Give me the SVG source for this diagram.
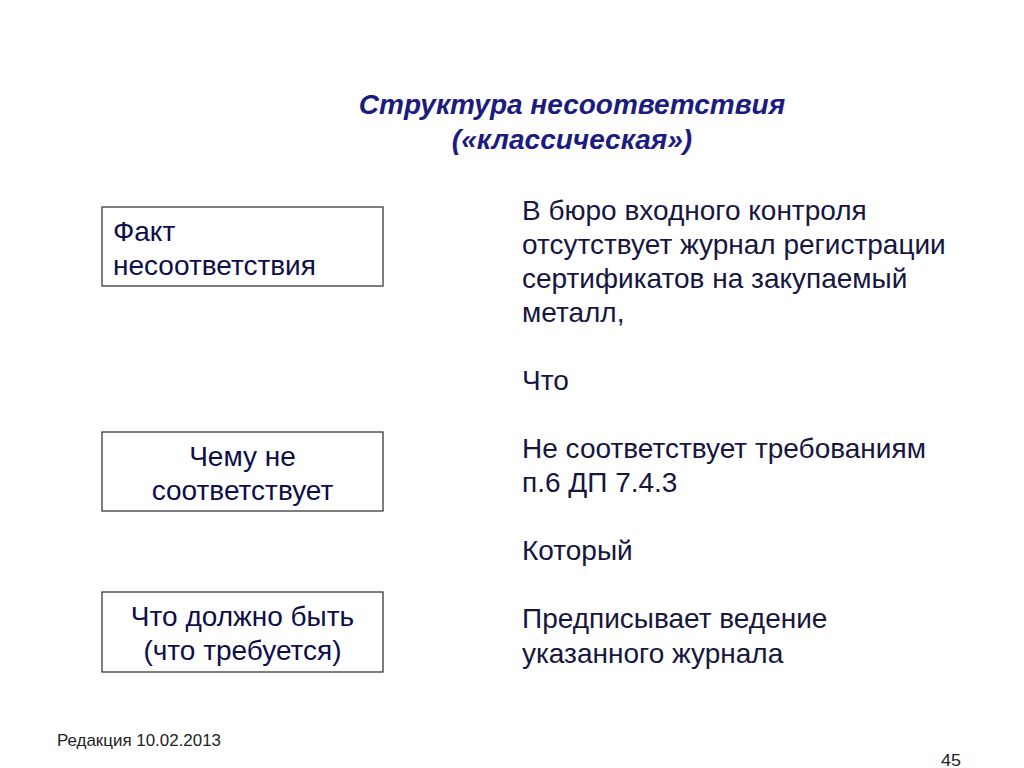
<svg xmlns="http://www.w3.org/2000/svg" width="1024" height="768" viewBox="0 0 1024 768">
<style>
.title{font-family:"Liberation Sans",Arial,sans-serif;font-size:28px;font-weight:bold;font-style:italic;fill:#1c1c80;text-anchor:middle}
.box{fill:#ffffff;stroke:#3a3a3a;stroke-width:1.3}
.bt{font-family:"Liberation Sans",Arial,sans-serif;font-size:28px;fill:#0e0e4a}
.rt{font-family:"Liberation Sans",Arial,sans-serif;font-size:28px;fill:#161640}
.ft{font-family:"Liberation Sans",Arial,sans-serif;font-size:17px;fill:#222222}
</style>
<rect width="1024" height="768" fill="#ffffff"/>
<g id="title">
<text class="title" x="572" y="114">Структура несоответствия</text>
<text class="title" x="572" y="149">(«классическая»)</text>
</g>
<g id="node-fact">
<rect class="box" x="102" y="207" width="281" height="79"/>
<text class="bt" x="113" y="241">Факт</text>
<text class="bt" x="113" y="275">несоответствия</text>
</g>
<g id="node-what-not">
<rect class="box" x="102" y="432" width="281" height="79"/>
<text class="bt" x="242.5" y="466" text-anchor="middle">Чему не</text>
<text class="bt" x="242.5" y="500" text-anchor="middle">соответствует</text>
</g>
<g id="node-should">
<rect class="box" x="102" y="592" width="281" height="80"/>
<text class="bt" x="242.5" y="626" text-anchor="middle">Что должно быть</text>
<text class="bt" x="242.5" y="660" text-anchor="middle">(что требуется)</text>
</g>
<g id="connectors"></g>
<g id="right-text">
<text class="rt" x="522" y="220">В бюро входного контроля</text>
<text class="rt" x="522" y="254">отсутствует журнал регистрации</text>
<text class="rt" x="522" y="288">сертификатов на закупаемый</text>
<text class="rt" x="522" y="322">металл,</text>
<text class="rt" x="522" y="390">Что</text>
<text class="rt" x="522" y="458">Не соответствует требованиям</text>
<text class="rt" x="522" y="492">п.6 ДП 7.4.3</text>
<text class="rt" x="522" y="560">Который</text>
<text class="rt" x="522" y="628">Предписывает ведение</text>
<text class="rt" x="522" y="663">указанного журнала</text>
</g>
<g id="footer">
<text class="ft" x="57" y="746" textLength="164" lengthAdjust="spacingAndGlyphs">Редакция 10.02.2013</text>
<text class="ft" x="941" y="766" font-size="20" textLength="20" lengthAdjust="spacingAndGlyphs">45</text>
</g>
</svg>
